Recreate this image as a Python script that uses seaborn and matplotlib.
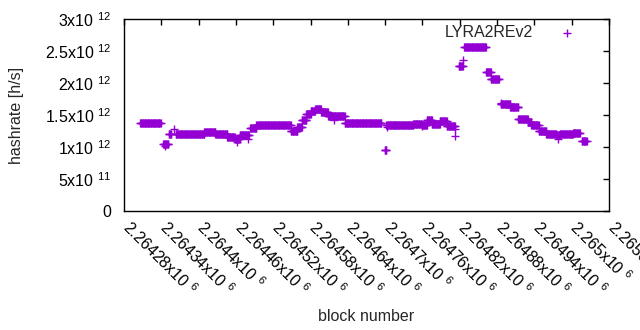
import numpy as np
import pandas as pd
import matplotlib
matplotlib.use("Agg")
import matplotlib.pyplot as plt
import seaborn as sns
from matplotlib.ticker import FixedLocator, FuncFormatter
from matplotlib.transforms import ScaledTranslation

# ---- data ----
# piecewise-constant hashrate segments: start block, end block, hashrate [h/s]
seg_start = [2264306, 2264343, 2264352, 2264363, 2264409, 2264427, 2264446, 2264458,
             2264466, 2264483, 2264493, 2264548, 2264559, 2264566, 2264573, 2264580,
             2264587, 2264597, 2264608, 2264635, 2264699, 2264702, 2264716, 2264745,
             2264759, 2264767, 2264775, 2264788, 2264799, 2264818, 2264827, 2264862,
             2264870, 2264886, 2264901, 2264914, 2264929, 2264935, 2264947, 2264959,
             2264975, 2264981, 2265002, 2265016]
seg_end = [2264339, 2264351, 2264356, 2264409, 2264427, 2264446, 2264458, 2264466,
           2264481, 2264493, 2264548, 2264559, 2264566, 2264573, 2264580, 2264587,
           2264597, 2264608, 2264635, 2264694, 2264702, 2264716, 2264745, 2264759,
           2264767, 2264775, 2264788, 2264799, 2264812, 2264825, 2264862, 2264870,
           2264883, 2264901, 2264914, 2264929, 2264935, 2264947, 2264959, 2264975,
           2264981, 2265002, 2265013, 2265024]
seg_value = [1.37e12, 1.05e12, 1.20e12, 1.21e12, 1.23e12, 1.21e12, 1.16e12, 1.13e12,
             1.19e12, 1.29e12, 1.34e12, 1.25e12, 1.32e12, 1.42e12, 1.51e12, 1.57e12,
             1.59e12, 1.55e12, 1.48e12, 1.37e12, 0.96e12, 1.34e12, 1.34e12, 1.36e12,
             1.34e12, 1.42e12, 1.36e12, 1.40e12, 1.33e12, 2.27e12, 2.56e12, 2.17e12,
             2.06e12, 1.67e12, 1.63e12, 1.43e12, 1.39e12, 1.34e12, 1.25e12, 1.20e12,
             1.18e12, 1.20e12, 1.22e12, 1.10e12]
# individual off-level points
extra_block = [2264346, 2264360, 2264462, 2264479, 2264618, 2264703, 2264760,
               2264812, 2264812, 2264826, 2264886, 2264978]
extra_value = [1.02e12, 1.28e12, 1.08e12, 1.12e12, 1.42e12, 1.31e12, 1.33e12,
               1.28e12, 1.17e12, 2.36e12, 1.69e12, 1.13e12]

x_ticks = [2264280 + 60 * i for i in range(14)]
y_ticks = [0, 0.5e12, 1e12, 1.5e12, 2e12, 2.5e12, 3e12]

# ---- build table (one point per block inside each segment) ----
bx, by = [], []
for s, e, v in zip(seg_start, seg_end, seg_value):
    blocks = list(range(s, e + 1))
    bx += blocks
    by += [v] * len(blocks)
bx += extra_block
by += extra_value
df = pd.DataFrame({"block number": np.array(bx, dtype=float), "hashrate": by})

# ---- style ----
sns.set_style("white")
plt.rcParams["font.family"] = ["Liberation Sans", "DejaVu Sans"]
plt.rcParams["mathtext.default"] = "regular"
FS = 11.5

fig = plt.figure(figsize=(6.4, 3.3), dpi=100)
ax = fig.add_axes([124 / 640, 1 - 211 / 330, (609 - 124) / 640, (211 - 19) / 330])

sns.scatterplot(data=df, x="block number", y="hashrate", marker="+", s=26,
                linewidth=1.0, color="#9400d3", label="LYRA2REv2", ax=ax)

ax.set_xlim(2264280, 2265060)
ax.set_ylim(0, 3e12)
ax.xaxis.set_major_locator(FixedLocator(x_ticks))
ax.yaxis.set_major_locator(FixedLocator(y_ticks))


def yfmt(v, pos):
    if v == 0:
        return "0"
    exp = int(np.floor(np.log10(v) + 1e-9))
    m = v / 10 ** exp
    return "%gx10 $^{%d}$" % (m, exp)


def xfmt(v, pos):
    return "%gx10 $^{6}$" % (v / 1e6)


ax.yaxis.set_major_formatter(FuncFormatter(yfmt))
ax.xaxis.set_major_formatter(FuncFormatter(xfmt))

ax.tick_params(direction="in", length=4, width=1, top=True, right=True,
               labelsize=FS, colors="black")
ax.tick_params(axis="y", pad=9)
ax.tick_params(axis="x", pad=13.5)

shift = ScaledTranslation(-0.03, 0.01, fig.dpi_scale_trans)
for tick in ax.xaxis.get_major_ticks(len(x_ticks)):
    lab = tick.label1
    lab.set_rotation(-45)
    lab.set_ha("left")
    lab.set_va("baseline")
    lab.set_rotation_mode("anchor")
    lab.set_transform(lab.get_transform() + shift)

for sp in ax.spines.values():
    sp.set_visible(True)
    sp.set_color("black")
    sp.set_linewidth(1)

ax.set_xlabel("block number", fontsize=FS)
ax.set_ylabel("hashrate [h/s]", fontsize=FS)
ax.xaxis.set_label_coords(0.5, -0.51)
ax.yaxis.set_label_coords(-0.206, 0.5)

leg = ax.legend(loc="upper right", frameon=False, markerfirst=False, fontsize=FS,
                handletextpad=1.15, borderaxespad=0.0, bbox_to_anchor=(0.9596, 1.0))

fig.savefig("out.png", dpi=100)
